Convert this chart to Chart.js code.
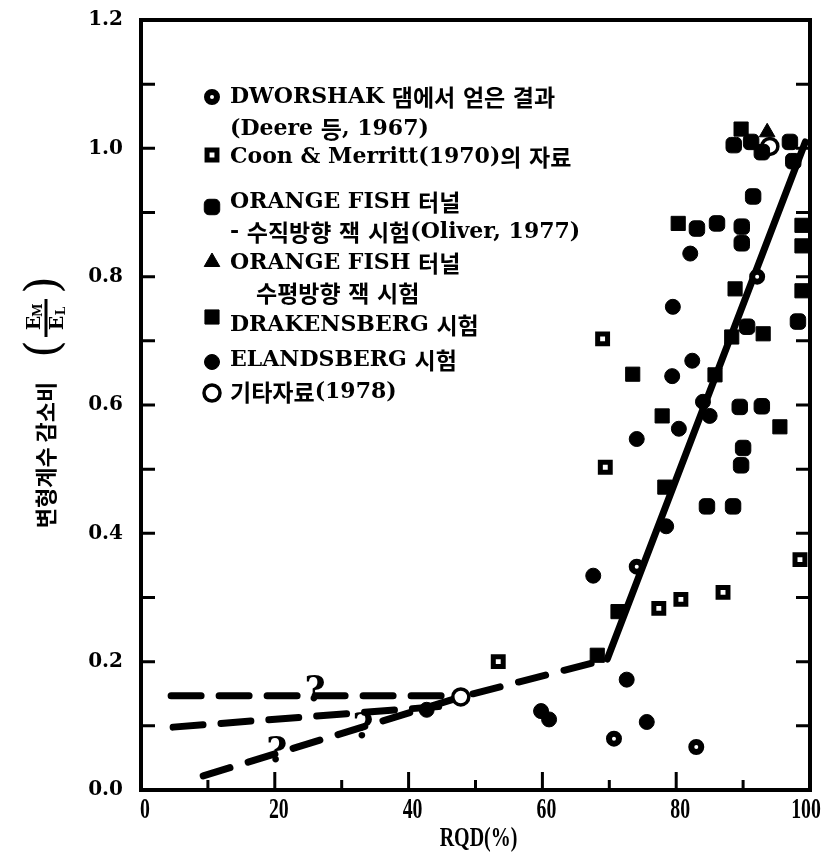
<!DOCTYPE html>
<html>
<head>
<meta charset="utf-8">
<script src="https://cdn.jsdelivr.net/npm/chart.js@4/dist/chart.umd.min.js"></script>
<style>
  html, body { margin: 0; padding: 0; background: #fff; }
  canvas { display: block; }
</style>
</head>
<body>
<canvas id="rqdChart" width="826" height="854"></canvas>
<script>
// RQD(%) vs modulus reduction ratio E_M / E_L

// DWORSHAK dam (Deere et al. 1967)
const dworshakX = [74.1, 70.7, 92.1, 83.0];
const dworshakY = [0.348, 0.080, 0.800, 0.067];

// Coon & Merritt (1970)
const coonX = [53.4, 69.0, 69.4, 77.4, 80.7, 87.0, 98.5];
const coonY = [0.200, 0.703, 0.503, 0.283, 0.297, 0.308, 0.359];

// Orange Fish tunnel, vertical jack tests (Oliver 1977)
const ofVertX = [88.6, 91.2, 92.8, 97.0, 97.5, 91.5, 83.1, 86.1, 89.8, 89.8, 90.6, 98.2, 89.5, 92.8, 90.0, 89.7, 84.6, 88.5];
const ofVertY = [1.005, 1.010, 0.994, 1.010, 0.980, 0.925, 0.875, 0.883, 0.878, 0.852, 0.722, 0.730, 0.597, 0.598, 0.533, 0.506, 0.442, 0.442];

// Orange Fish tunnel, horizontal jack tests
const ofHorX = [93.6];
const ofHorY = [1.025];

// Drakensberg
const drakX = [89.7, 80.3, 88.8, 98.8, 98.8, 98.8, 88.3, 93.0, 73.5, 77.9, 95.5, 78.3, 71.3, 68.2, 85.8];
const drakY = [1.030, 0.883, 0.781, 0.880, 0.848, 0.778, 0.706, 0.711, 0.648, 0.583, 0.566, 0.472, 0.278, 0.210, 0.647];

// Elandsberg
const elandX = [82.1, 79.5, 82.4, 79.4, 84.0, 85.0, 80.4, 74.1, 78.5, 67.6, 72.6, 75.6, 59.8, 61.0, 42.7];
const elandY = [0.836, 0.753, 0.669, 0.645, 0.605, 0.583, 0.563, 0.547, 0.411, 0.334, 0.172, 0.106, 0.123, 0.110, 0.125];

// other data (1978)
const otherX = [47.8, 94.0];
const otherY = [0.145, 1.003];

// trend lines
const solidX = [69.7, 99.3];
const solidY = [0.204, 1.010];
const lowDashX = [9.3, 47.8, 69.7];
const lowDashY = [0.022, 0.145, 0.204];
const midDashX = [4.8, 44.5];
const midDashY = [0.098, 0.130];
const topDashX = [4.5, 46.0];
const topDashY = [0.147, 0.147];

// question marks along the uncertain branches
const queryX = [26.0, 20.3, 33.2];
const queryY = [0.150, 0.055, 0.092];

const seriesLabels = [
  ['DWORSHAK 댐에서 얻은 결과', '(Deere 등, 1967)'],
  ['Coon & Merritt(1970)의 자료'],
  ['ORANGE FISH 터널', '- 수직방향 잭 시험(Oliver, 1977)'],
  ['ORANGE FISH 터널', '수평방향 잭 시험'],
  ['DRAKENSBERG 시험'],
  ['ELANDSBERG 시험'],
  ['기타자료(1978)']
];

const xTitle = 'RQD(%)';
const yTitle = '변형계수 감소비';

const xTickMarks = [10, 20, 30, 40, 50, 60, 70, 80, 90];
const yTickMarks = [0.1, 0.2, 0.3, 0.4, 0.5, 0.6, 0.7, 0.8, 0.9, 1.0, 1.1];

const xy = (xs, ys) => xs.map((v, i) => ({x: v, y: ys[i]}));

function marker(label, xs, ys, style, radius, fill, border) {
  return {
    label: label,
    data: xy(xs, ys),
    pointStyle: style,
    pointRadius: radius,
    backgroundColor: fill,
    borderColor: '#000',
    borderWidth: border,
    clip: false
  };
}

function line(xs, ys, dash) {
  return {
    data: xy(xs, ys),
    showLine: true,
    pointRadius: 0,
    borderColor: '#000',
    borderWidth: 7,
    borderDash: dash,
    borderCapStyle: 'round',
    clip: false
  };
}

const datasets = [
  marker(seriesLabels[0][0], dworshakX, dworshakY, 'circle', 5, '#fff', 6),
  marker(seriesLabels[1][0], coonX, coonY, 'rect', 7, '#fff', 5),
  marker(seriesLabels[2][0], ofVertX, ofVertY, 'rectRounded', 9, '#000', 1),
  marker(seriesLabels[3][0], ofHorX, ofHorY, 'triangle', 9, '#000', 1),
  marker(seriesLabels[4][0], drakX, drakY, 'rect', 10, '#000', 1),
  marker(seriesLabels[5][0], elandX, elandY, 'circle', 7.5, '#000', 1),
  marker(seriesLabels[6][0], otherX, otherY, 'circle', 8, '#fff', 3.5),
  line(solidX, solidY, []),
  line(lowDashX, lowDashY, [28, 19]),
  line(midDashX, midDashY, [30, 18]),
  line(topDashX, topDashY, [30, 18])
];

// legend rows: symbol y, text line y's, x of each line
const legendRows = [
  {sy: 97,  ty: [97, 129],  tx: [230, 230]},
  {sy: 155, ty: [157],      tx: [230]},
  {sy: 207, ty: [202, 232], tx: [230, 230]},
  {sy: 262, ty: [263, 293], tx: [230, 256]},
  {sy: 317, ty: [325],      tx: [230]},
  {sy: 362, ty: [360],      tx: [230]},
  {sy: 393, ty: [392],      tx: [230]}
];

const HANGUL = /[\uAC00-\uD7A3]/;

// latin runs in a serif, hangul runs in a slightly larger CJK face
function drawMixed(ctx, text, x, y, latinFont, hangulFont) {
  text.match(/[\uAC00-\uD7A3]+|[^\uAC00-\uD7A3]+/g).forEach(run => {
    ctx.font = HANGUL.test(run) ? hangulFont : latinFont;
    ctx.fillText(run, x, y);
    x += ctx.measureText(run).width;
  });
}

// condensed text: horizontal squeeze around the anchor
function drawNarrow(ctx, text, x, y, font, sx) {
  ctx.save();
  ctx.translate(x, y);
  ctx.scale(sx, 1);
  ctx.font = font;
  ctx.fillText(text, 0, 0);
  ctx.restore();
}

const decor = {
  id: 'decor',
  beforeDatasetsDraw(chart) {
    const {ctx, chartArea: a, scales: {x, y}} = chart;
    ctx.save();
    ctx.strokeStyle = '#000';
    ctx.lineWidth = 4;
    ctx.strokeRect(a.left, a.top, a.right - a.left, a.bottom - a.top);
    ctx.lineWidth = 3;
    ctx.beginPath();
    yTickMarks.forEach(v => {
      const py = y.getPixelForValue(v);
      ctx.moveTo(a.left, py); ctx.lineTo(a.left + 14, py);
      ctx.moveTo(a.right, py); ctx.lineTo(a.right - 14, py);
    });
    xTickMarks.forEach(v => {
      const px = x.getPixelForValue(v);
      const len = v % 20 === 0 ? 18 : 10;
      ctx.moveTo(px, a.bottom); ctx.lineTo(px, a.bottom - len);
    });
    ctx.stroke();
    ctx.restore();
  },
  afterDraw(chart) {
    const {ctx, chartArea: a, scales: {x, y}} = chart;
    ctx.save();
    ctx.fillStyle = '#000';
    ctx.textBaseline = 'middle';
    ctx.textAlign = 'center';

    // x tick labels and title, narrow bold serif
    x.ticks.forEach(t => {
      const px = Math.min(x.getPixelForValue(t.value) + 4, 806);
      drawNarrow(ctx, String(t.value), px, a.bottom + 20, 'bold 30px "Liberation Serif"', 0.66);
    });
    drawNarrow(ctx, xTitle, (a.left + a.right) / 2 + 3, 839, 'bold 27px "Liberation Serif"', 0.74);

    // question marks
    ctx.font = 'bold 36px "DejaVu Serif"';
    queryX.forEach((v, i) => {
      ctx.fillText('?', x.getPixelForValue(v), y.getPixelForValue(queryY[i]) - 2);
    });

    // legend
    legendRows.forEach((row, i) => {
      const ds = chart.data.datasets[i];
      ctx.fillStyle = ds.backgroundColor;
      ctx.strokeStyle = ds.borderColor;
      ctx.lineWidth = ds.borderWidth;
      Chart.helpers.drawPoint(ctx, {
        pointStyle: ds.pointStyle, radius: ds.pointRadius,
        rotation: 0, borderWidth: ds.borderWidth
      }, 212, row.sy);
      ctx.fillStyle = '#000';
      ctx.textAlign = 'left';
      seriesLabels[i].forEach((t, k) => drawMixed(ctx, t, row.tx[k], row.ty[k],
        'bold 22px "DejaVu Serif"', 'bold 23px "Noto Sans CJK KR"'));
    });

    // y title, rotated, with the E_M / E_L fraction
    ctx.textAlign = 'center';
    ctx.save();
    ctx.translate(46, 455);
    ctx.rotate(-Math.PI / 2);
    ctx.font = 'bold 22px "Noto Sans CJK KR"';
    ctx.fillText(yTitle, 0, 0);
    ctx.restore();

    ctx.save();
    ctx.translate(46, 317);
    ctx.rotate(-Math.PI / 2);
    ctx.font = '46px "DejaVu Serif"';
    ctx.fillText('(', -32, 0);
    ctx.fillText(')', 32, 0);
    ctx.font = 'bold 19px "DejaVu Serif"';
    ctx.fillText('E', -6, -11);
    ctx.fillText('E', -6, 12);
    ctx.font = 'bold 12px "DejaVu Serif"';
    ctx.fillText('M', 7, -7);
    ctx.fillText('L', 6, 16);
    ctx.fillRect(-20, -1.5, 38, 3);
    ctx.restore();

    ctx.restore();
  }
};

new Chart(document.getElementById('rqdChart').getContext('2d'), {
  type: 'scatter',
  data: {datasets: datasets},
  options: {
    responsive: false,
    animation: false,
    events: [],
    layout: {padding: {top: 20, right: 16, left: 0, bottom: 0}},
    plugins: {legend: {display: false}, tooltip: {enabled: false}},
    scales: {
      x: {
        type: 'linear', min: 0, max: 100,
        grid: {display: false, drawTicks: false},
        border: {display: false},
        ticks: {stepSize: 20, display: false},
        afterFit: s => { s.height = 64; }
      },
      y: {
        type: 'linear', min: 0, max: 1.2,
        grid: {display: false, drawTicks: false},
        border: {display: false},
        ticks: {stepSize: 0.2, padding: 18, color: '#000', callback: v => v.toFixed(1),
          font: {family: 'DejaVu Serif', weight: 'bold', size: 20}},
        afterFit: s => { s.width = 141; s.paddingTop = 0; s.paddingBottom = 0; }
      }
    }
  },
  plugins: [decor]
});
</script>
</body>
</html>
